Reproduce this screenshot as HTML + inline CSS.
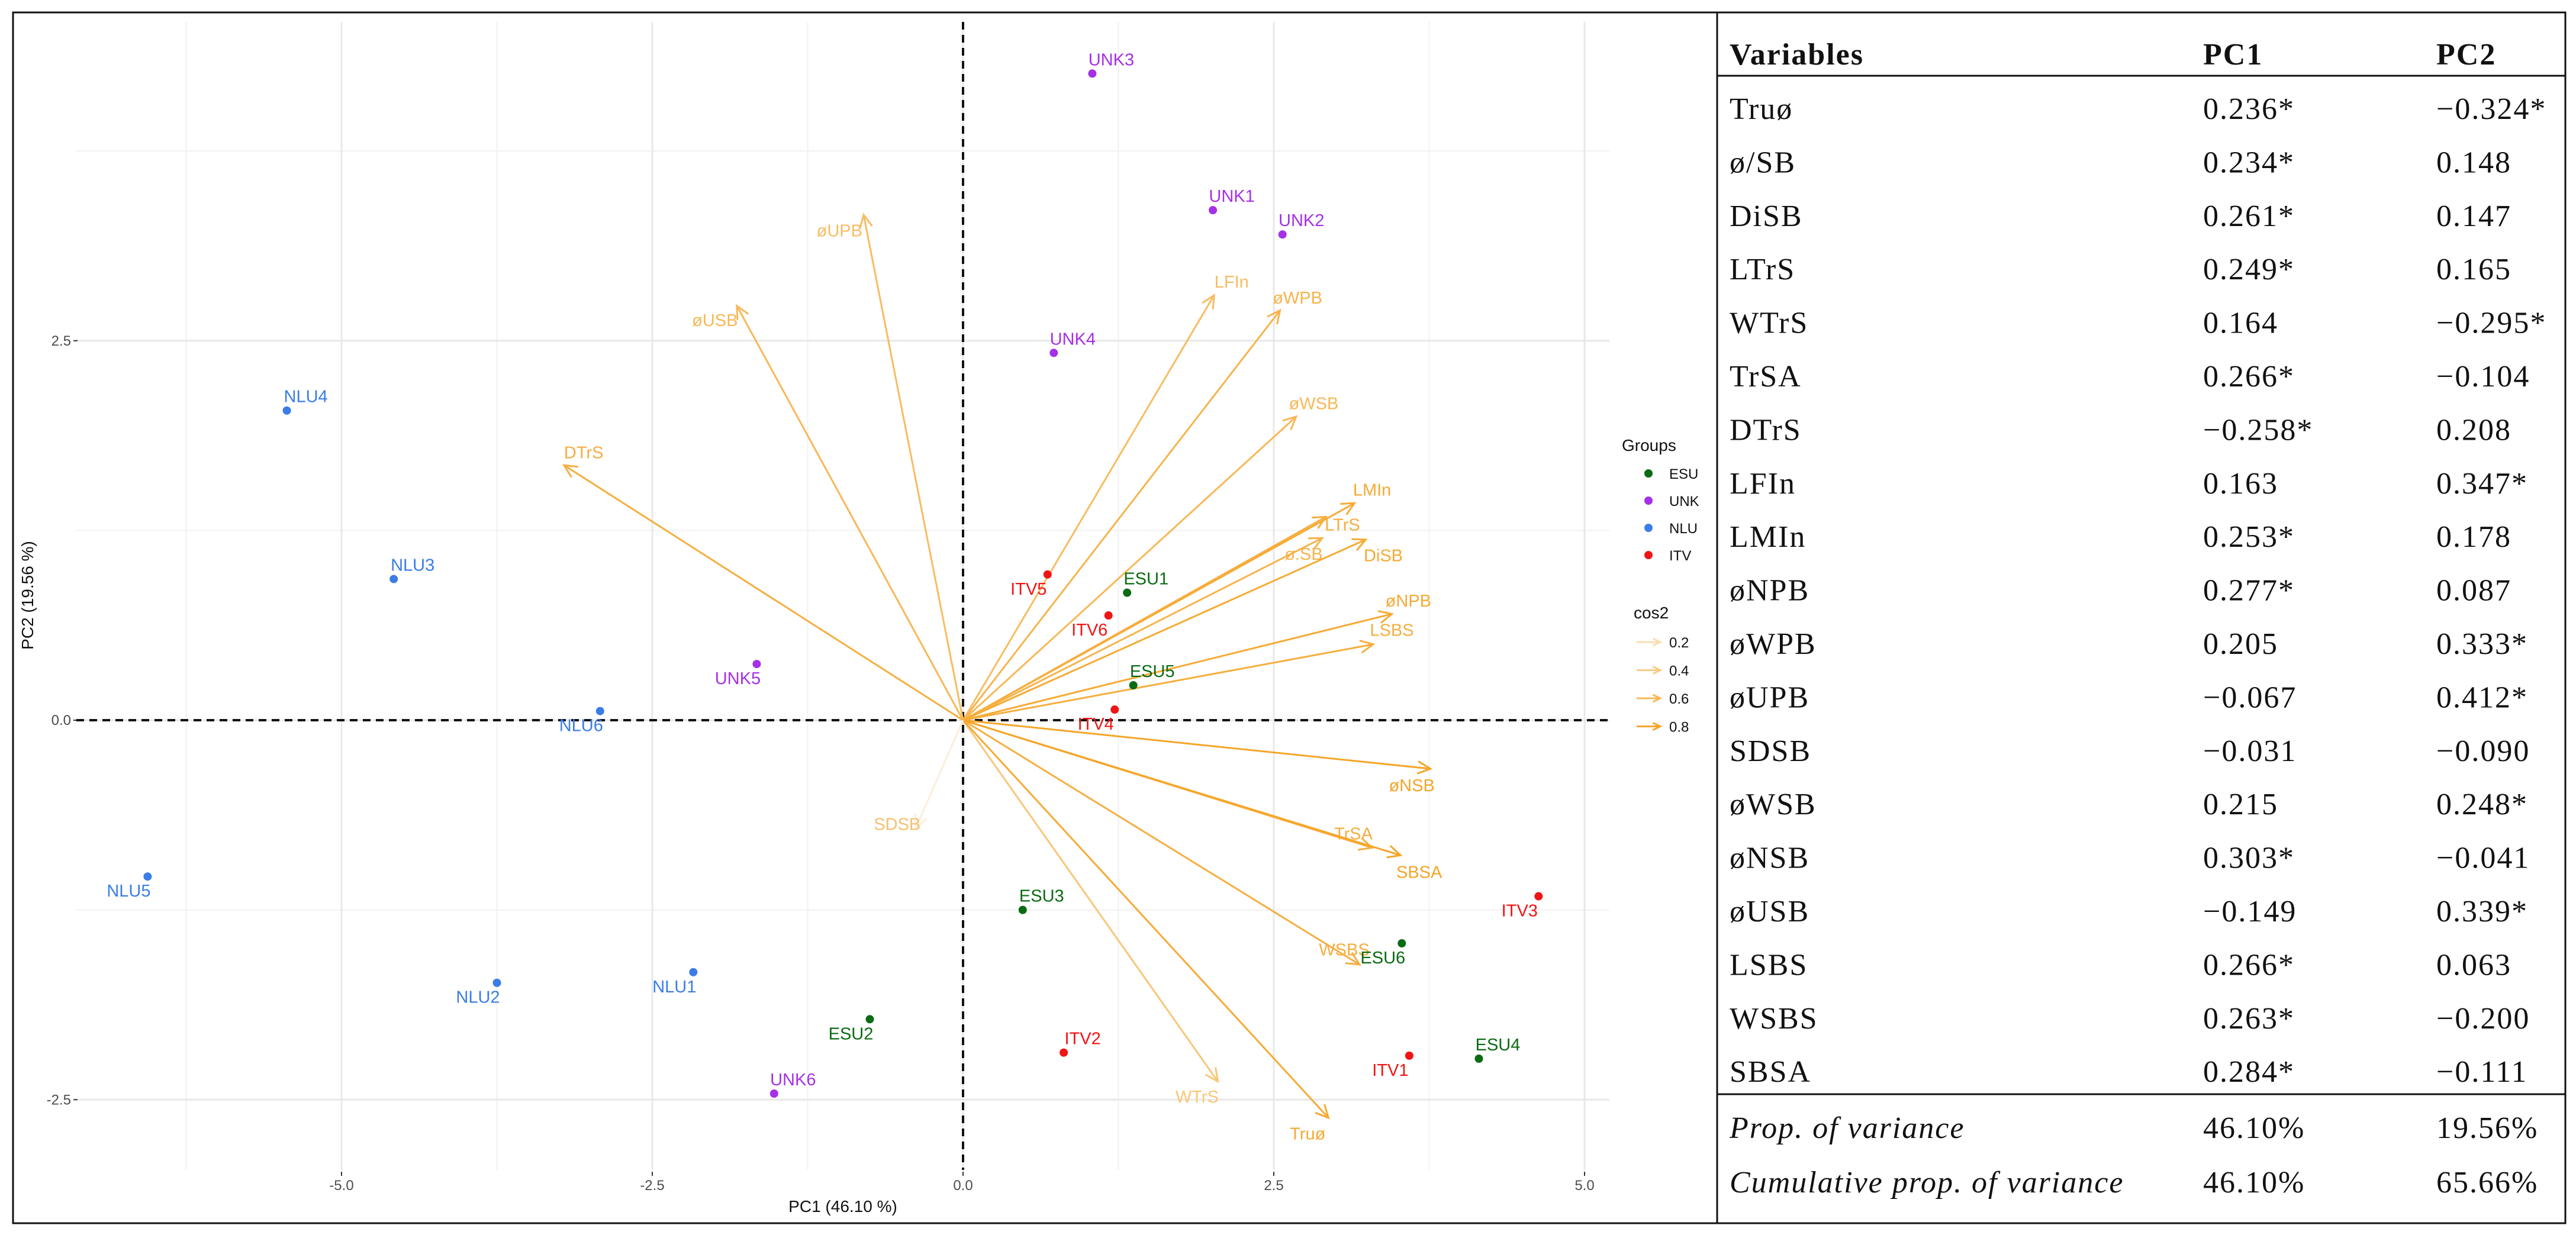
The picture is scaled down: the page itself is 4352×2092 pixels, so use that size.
<!DOCTYPE html>
<html><head><meta charset="utf-8">
<style>
html,body{margin:0;padding:0;background:#fff;}
svg{display:block;}
.sans{font-family:"Liberation Sans",Arial,sans-serif;}
.serif{font-family:"Liberation Serif","Times New Roman",serif;}
</style></head>
<body>
<svg id="fig" width="4352" height="2092" viewBox="0 0 4352 2092" xmlns="http://www.w3.org/2000/svg">
<rect x="0" y="0" width="4352" height="2092" fill="#fff"/>
<g id="plot"></g>
<g id="table"></g>
<rect x="22" y="21" width="4312" height="2046" fill="none" stroke="#111" stroke-width="3"/>
<line x1="2901" y1="21" x2="2901" y2="2067" stroke="#111" stroke-width="3"/>
</svg>
<script>
// ---- individuals ----
const indNames = ["UNK3","UNK1","UNK2","UNK4","UNK5","UNK6","NLU4","NLU3","NLU6","NLU5","NLU2","NLU1","ESU1","ESU5","ESU3","ESU2","ESU6","ESU4","ITV5","ITV6","ITV4","ITV3","ITV2","ITV1"];
const indGroups = ["UNK","UNK","UNK","UNK","UNK","UNK","NLU","NLU","NLU","NLU","NLU","NLU","ESU","ESU","ESU","ESU","ESU","ESU","ITV","ITV","ITV","ITV","ITV","ITV"];
const indPC1 = [1.04,2.01,2.57,0.73,-1.66,-1.52,-5.44,-4.58,-2.92,-6.56,-3.75,-2.17,1.32,1.37,0.48,-0.75,3.53,4.15,0.68,1.17,1.22,4.63,0.81,3.59];
const indPC2 = [4.26,3.36,3.20,2.42,0.37,-2.46,2.04,0.93,0.06,-1.03,-1.73,-1.66,0.84,0.23,-1.25,-1.97,-1.47,-2.23,0.96,0.69,0.07,-1.16,-2.19,-2.21];
const indLabelSide = [1,1,1,1,-1,1,1,1,-1,-1,-1,-1,1,1,1,-1,-1,1,-1,-1,-1,-1,1,-1];
// ---- variables ----
const varNames = ["øUPB","øUSB","DTrS","LFIn","øWPB","øWSB","LMIn","LTrS","ø.SB","DiSB","øNPB","LSBS","øNSB","TrSA","SBSA","WSBS","WTrS","Truø","SDSB"];
const varPC1 = [-0.80,-1.82,-3.21,2.02,2.55,2.68,3.15,2.92,2.89,3.24,3.45,3.30,3.76,3.29,3.52,3.19,2.05,2.94,-0.38];
const varPC2 = [3.33,2.73,1.68,2.80,2.70,2.00,1.43,1.34,1.20,1.19,0.70,0.50,-0.32,-0.84,-0.89,-1.61,-2.38,-2.62,-0.71];
const varCos2 = [0.55,0.6,0.7,0.55,0.65,0.6,0.75,0.7,0.65,0.75,0.75,0.7,0.8,0.7,0.8,0.7,0.45,0.75,0.02];
const varLabelDX = [-22,-20,18,16,16,16,16,15,-17,16,15,17,-17,-17,17,-14,-19,-19,-17];
const varLabelDY = [20,18,-16,-17,-16,-17,-17,10,20,20,-17,-18,21,-18,21,-19,19,20,-5];
// ---- ticks ----
const xTicks = [-5.0,-2.5,0.0,2.5,5.0];
const yTicks = [-2.5,0.0,2.5];
const xMinor = [-6.25,-3.75,-1.25,1.25,3.75];
const yMinor = [-1.25,1.25,3.75];
const groupNames = ["ESU","UNK","NLU","ITV"];
const groupColors = ["#0a6b12","#a530e6","#3b7de6","#f01414"];
const cos2Legend = [0.2,0.4,0.6,0.8];

const NS="http://www.w3.org/2000/svg";
const X0=1627, SX=210, Y0=1217, SY=256.5;
const PL=129, PR=2719, PT=37, PB=1977;
function xs(v){return X0+v*SX;}
function ys(v){return Y0-v*SY;}
function mk(tag,attrs,parent,text){const e=document.createElementNS(NS,tag);for(const k in attrs)e.setAttribute(k,attrs[k]);if(text!==undefined)e.textContent=text;parent.appendChild(e);return e;}
function orange(c){
  const a=[253,240,222], b=[245,165,40];
  const t=Math.max(0,Math.min(1,(c-0.0)/0.8));
  return "rgb("+a.map((v,i)=>Math.round(v+(b[i]-v)*t)).join(",")+")";
}
const plot=document.getElementById('plot');
xMinor.forEach(v=>{const l=mk('line',{x1:xs(v),x2:xs(v),y1:PT,y2:PB,stroke:'#f1f1f1','stroke-width':2},plot);});
yMinor.forEach(v=>{const l=mk('line',{x1:PL,x2:PR,y1:ys(v),y2:ys(v),stroke:'#f1f1f1','stroke-width':2},plot);});
xTicks.forEach(v=>{const l=mk('line',{x1:xs(v),x2:xs(v),y1:PT,y2:PB,stroke:'#e8e8e8','stroke-width':3},plot);
  const t=mk('line',{x1:xs(v),x2:xs(v),y1:PB+3,y2:PB+10,stroke:'#333','stroke-width':2},plot);
  const tx=mk('text',{x:xs(v),y:2011,'text-anchor':'middle','font-size':24,fill:'#4d4d4d',class:'sans'},plot,v.toFixed(1));});
yTicks.forEach(v=>{const l=mk('line',{x1:PL,x2:PR,y1:ys(v),y2:ys(v),stroke:'#e8e8e8','stroke-width':3},plot);
  const t=mk('line',{x1:124,x2:131,y1:ys(v),y2:ys(v),stroke:'#333','stroke-width':2},plot);
  const tx=mk('text',{x:120,y:ys(v)+8,'text-anchor':'end','font-size':24,fill:'#4d4d4d',class:'sans'},plot,v.toFixed(1));});
let z=mk('line',{x1:PL,x2:PR,y1:ys(0),y2:ys(0),stroke:'#111','stroke-width':4,'stroke-dasharray':'13 9'},plot);

z=mk('line',{x1:xs(0),x2:xs(0),y1:PT,y2:PB,stroke:'#111','stroke-width':4,'stroke-dasharray':'13 9'},plot);

let at=mk('text',{x:1424,y:2048,'text-anchor':'middle','font-size':28,fill:'#111',class:'sans'},plot,'PC1 (46.10 %)');

at=mk('text',{x:56,y:1006,'text-anchor':'middle','font-size':28,fill:'#111',class:'sans',transform:'rotate(-90 56 1006)'},plot,'PC2 (19.56 %)');

function arrowHead(g,x1,y1,x2,y2,col,w,len){
  const a=Math.atan2(y2-y1,x2-x1), s=0.45;
  const p=`M${x2-len*Math.cos(a-s)},${y2-len*Math.sin(a-s)} L${x2},${y2} L${x2-len*Math.cos(a+s)},${y2-len*Math.sin(a+s)}`;
  return mk('path',{d:p,fill:'none',stroke:col,'stroke-width':w,'stroke-linejoin':'miter'},g);
}
varNames.forEach((n,i)=>{
  const col=orange(varCos2[i]);
  const g=mk('g',{},plot);
  
  
  const x2=xs(varPC1[i]), y2=ys(varPC2[i]);
  mk('line',{x1:xs(0),y1:ys(0),x2:x2,y2:y2,stroke:col,'stroke-width':3},g);
  arrowHead(g,xs(0),ys(0),x2,y2,col,3,24);
  const lcol = varCos2[i]<0.1 ? '#f7c070' : col;
  const t=mk('text',{x:x2+varLabelDX[i]*1.85,y:y2+varLabelDY[i]*1.334+10,'text-anchor':'middle','font-size':29,fill:lcol,class:'sans'},g,n);
  
  
});
indNames.forEach((n,i)=>{
  const col=groupColors[groupNames.indexOf(indGroups[i])];
  const px=xs(indPC1[i]), py=ys(indPC2[i]);
  const c=mk('circle',{cx:px,cy:py,r:7,fill:col},plot);
  
  
  const s=indLabelSide[i];
  const t=mk('text',{x:px+s*32,y:py-s*24+10,'text-anchor':'middle','font-size':29,fill:col,class:'sans'},plot,n);
  
  
});
let lt=mk('text',{x:2740,y:762,'font-size':28,fill:'#111',class:'sans'},plot,'Groups');

groupNames.forEach((g,i)=>{
  const y=800+i*46;
  const c=mk('circle',{cx:2785,cy:y,r:7,fill:groupColors[i]},plot);
  
  const t=mk('text',{x:2820,y:y+9,'font-size':24,fill:'#111',class:'sans'},plot,g);
  
});
lt=mk('text',{x:2760,y:1045,'font-size':28,fill:'#111',class:'sans'},plot,'cos2');

cos2Legend.forEach((v,i)=>{
  const y=1085+i*47.5, col=orange(v);
  const g=mk('g',{},plot);
  
  mk('line',{x1:2765,x2:2805,y1:y,y2:y,stroke:col,'stroke-width':3},g);
  arrowHead(g,2765,y,2805,y,col,3,14);
  const t=mk('text',{x:2820,y:y+9,'font-size':24,fill:'#111',class:'sans'},plot,v.toFixed(1));
  
});

// ---- table ----
const tblVars = ["Truø","ø/SB","DiSB","LTrS","WTrS","TrSA","DTrS","LFIn","LMIn","øNPB","øWPB","øUPB","SDSB","øWSB","øNSB","øUSB","LSBS","WSBS","SBSA"];
const tblPC1 = ["0.236*","0.234*","0.261*","0.249*","0.164","0.266*","−0.258*","0.163","0.253*","0.277*","0.205","−0.067","−0.031","0.215","0.303*","−0.149","0.266*","0.263*","0.284*"];
const tblPC2 = ["−0.324*","0.148","0.147","0.165","−0.295*","−0.104","0.208","0.347*","0.178","0.087","0.333*","0.412*","−0.090","0.248*","−0.041","0.339*","0.063","−0.200","−0.111"];
const tbl=document.getElementById('table');
const CX=[2922,3722,4116], FS=52;
function tt(x,y,s,attrs,name){const t=mk('text',Object.assign({x:x,y:y,'font-size':FS,fill:'#111',class:'serif','letter-spacing':2},attrs||{}),tbl,s);return t;}
tt(CX[0],91+18,'Variables',{'font-weight':'bold'},'header-variables');
tt(CX[1],91+18,'PC1',{'font-weight':'bold'},'header-pc1');
tt(CX[2],91+18,'PC2',{'font-weight':'bold'},'header-pc2');
let hl=mk('line',{x1:2901,x2:4334,y1:128,y2:128,stroke:'#111','stroke-width':3},tbl);

tblVars.forEach((v,i)=>{
  const y=183+i*90.4+18;
  tt(CX[0],y,v,{},'row-variable');
  tt(CX[1],y,tblPC1[i],{},'row-pc1');
  tt(CX[2],y,tblPC2[i],{},'row-pc2');
});
hl=mk('line',{x1:2901,x2:4334,y1:1849,y2:1849,stroke:'#111','stroke-width':3},tbl);

tt(CX[0],1905+18,'Prop. of variance',{'font-style':'italic'},'prop-variance-label');
tt(CX[1],1905+18,'46.10%',{},'prop-variance-pc1');
tt(CX[2],1905+18,'19.56%',{},'prop-variance-pc2');
tt(CX[0],1997+18,'Cumulative prop. of variance',{'font-style':'italic'},'cum-variance-label');
tt(CX[1],1997+18,'46.10%',{},'cum-variance-pc1');
tt(CX[2],1997+18,'65.66%',{},'cum-variance-pc2');
</script>
</body></html>
